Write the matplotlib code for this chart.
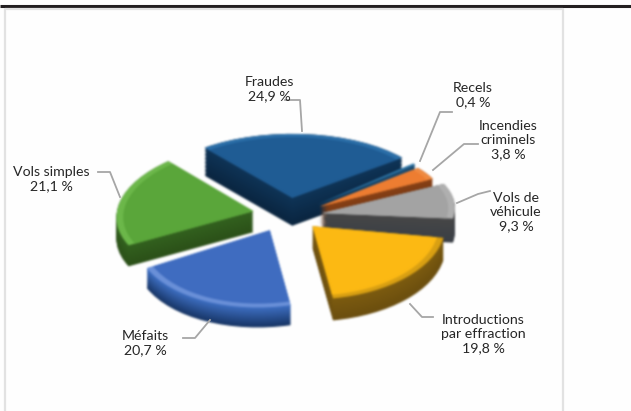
import numpy as np
import matplotlib
matplotlib.use('Agg')
import matplotlib.pyplot as plt
from matplotlib.colors import to_rgb
from matplotlib.transforms import Affine2D

categories = ['Fraudes', 'Recels', 'Incendies\ncriminels', 'Vols de\nvéhicule',
              'Introductions\npar effraction', 'Méfaits', 'Vols simples']
values = [24.9, 0.4, 3.8, 9.3, 19.8, 20.7, 21.1]
value_labels = ['24,9 %', '0,4 %', '3,8 %', '9,3 %', '19,8 %', '20,7 %', '21,1 %']

top_colors = ['#1f5c94', '#2e75a6', '#ed7d31', '#a3a3a3', '#fcb913', '#3f6cc0', '#5aa63a']
rim_colors = ['#2a6ea8', '#3a85b8', '#f08a40', '#b0b0b0', '#d9a013', '#6a90d8', '#6cb84a']
side_top = ['#0f3558', '#1d4f75', '#8a4216', '#474747', '#7d5c10', '#3f70c4', '#33621f']
side_bottom = ['#0a2540', '#123350', '#6a3010', '#3a3f46', '#6b4e0e', '#173565', '#2b5018']
explode = [0.28, 0.27, 0.27, 0.25, 0.255, 0.28, 0.26]
depth_px = [28, 20, 22, 24, 22, 20, 21]
draw_order = [0, 1, 2, 3, 6, 4, 5]

# per slice stretch of the flat pie, the original has a perspective view
stretch_x = [1.03, 0.90, 0.90, 0.97, 0.97, 0.985, 1.0]
stretch_y = [1.03, 0.95, 0.91, 0.99, 1.18, 1.24, 1.11]
shear = [0.0, 0.04, 0.04, 0.037, 0.007, 0.05, 0.046]

label_pos = [(269, 89), (473, 95), (508, 140), (516, 212), (483, 334), (145, 343), (51, 179)]
leaders = [[(285, 100), (300, 100), (302, 131)],
           [(452, 112), (440, 112), (420, 161)],
           [(478, 144), (464, 144), (433, 170)],
           [(490, 191), (478, 194), (457, 203)],
           [(433, 317), (422, 317), (410, 304)],
           [(183, 338), (195, 338), (210, 320)],
           [(98, 172), (110, 172), (120, 197)]]

W, H = 631, 411
cx, cy = 288, 215
rx, ry = 137, 62


def mix(a, b, t):
    a, b = np.array(to_rgb(a)), np.array(to_rgb(b))
    return tuple(a + (b - a) * t)


def box_blur(img, dpi):
    # soft look of the scanned original
    pad = 4
    out = np.pad(img, ((pad, pad), (pad, pad), (0, 0)))
    a = out[:, :, 3:4]
    out = np.concatenate([out[:, :, :3] * a, a], axis=2)
    k = np.array([1, 4, 6, 4, 1]) / 16.0
    for axis in (0, 1):
        out = np.apply_along_axis(lambda m: np.convolve(m, k, mode='same'), axis, out)
    a = np.clip(out[:, :, 3:4], 1e-4, 1)
    out = np.concatenate([np.clip(out[:, :, :3] / a, 0, 1), a], axis=2)
    return out, -pad, -pad


def layer(colors, frac, size, z):
    wedges, _ = ax.pie(values, colors=colors, startangle=128.4, counterclock=False,
                       explode=explode)
    for i, w in enumerate(wedges):
        x0, y0 = w.center
        y0 = y0 - frac * depth_px[i] / ry
        w.set_center((x0, y0))
        w.set_radius(size)
        shape = Affine2D(np.array([[stretch_x[i], 0, 0],
                                   [shear[i] * rx / ry, stretch_y[i], 0],
                                   [0, 0, 1]]))
        tr = Affine2D().translate(-x0, -y0) + shape + Affine2D().translate(x0, y0)
        w.set_transform(tr + ax.transData)
        w.set_zorder(10 * draw_order.index(i) + z)


fig = plt.figure(figsize=(W / 100, H / 100), dpi=100, facecolor='#fefefe')

ax = fig.add_axes([0, 0, 1, 1])
n_layers = 22
for j, frac in enumerate(np.linspace(1, 0, n_layers)):
    colors = [mix(side_top[i], side_bottom[i], frac) for i in range(len(values))]
    layer(colors, frac, 1.0, j * 0.1)
layer(rim_colors, 0, 1.0, 3)
layer(top_colors, 0, 0.95, 4)
ax.set_aspect('auto')
ax.set_xlim(-cx / rx, (W - cx) / rx)
ax.set_ylim(-(H - cy) / ry, cy / ry)
ax.patch.set_alpha(0)
ax.set_agg_filter(box_blur)

over = fig.add_axes([0, 0, 1, 1])
over.set_xlim(0, W)
over.set_ylim(H, 0)
over.axis('off')

over.plot([0, W], [6, 6], color='#231f20', lw=2.2, solid_capstyle='butt')
over.plot([5, 5, 563, 563], [H, 9, 9, H], color='#e2e2e2', lw=1.6)

for cat, val, pos in zip(categories, value_labels, label_pos):
    over.text(pos[0], pos[1], cat + '\n' + val, ha='center', va='center', fontsize=10.2,
              family='Lato', color='#262626', linespacing=1.25)
for pts in leaders:
    over.plot([p[0] for p in pts], [p[1] for p in pts], color='#a6a6a6', lw=1.3)

fig.savefig('out.png', dpi=100, facecolor=fig.get_facecolor())
